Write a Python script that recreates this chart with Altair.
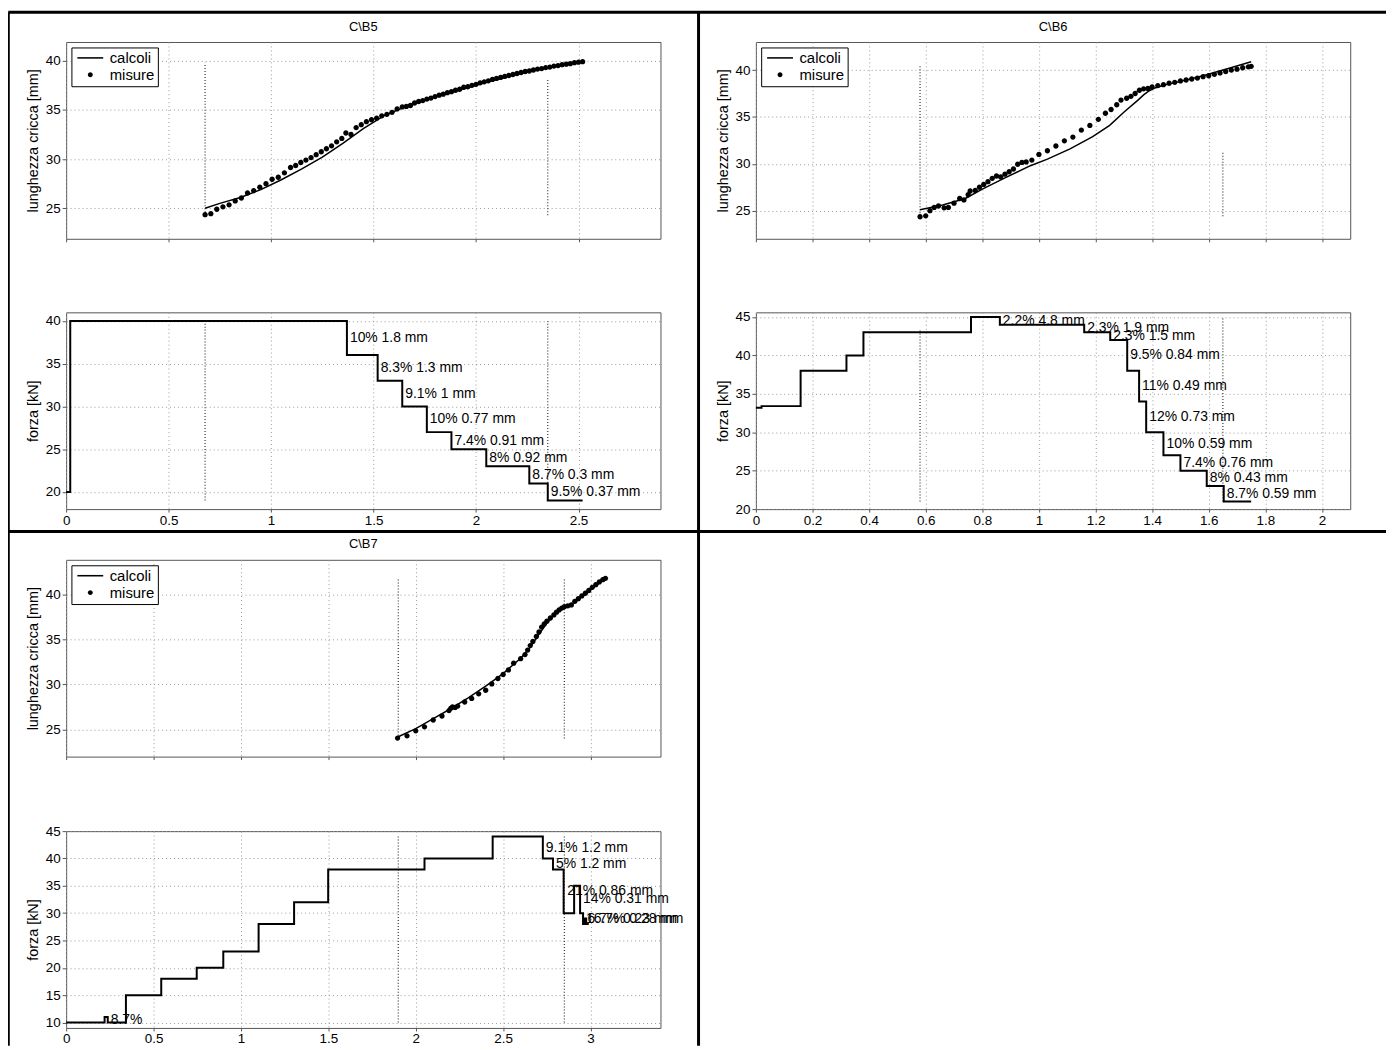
import altair as alt
import pandas as pd

FONT = "Liberation Sans"
GRID = "#9a9a9a"
FRAME = "#555555"

# ---------------- C\B5 ----------------
b5_calc_x = [0.678, 0.75, 0.85, 0.95, 1.05, 1.15, 1.25, 1.35, 1.45, 1.55, 1.65, 1.75, 1.85, 1.95, 2.05, 2.15, 2.25, 2.35, 2.45, 2.52]
b5_calc_y = [25.0, 25.5, 26.1, 26.9, 27.9, 29.0, 30.2, 31.6, 33.1, 34.4, 35.3, 36.0, 36.6, 37.2, 37.8, 38.4, 38.85, 39.3, 39.65, 39.9]
b5_mis_x = [0.678, 0.706, 0.735, 0.765, 0.795, 0.825, 0.855, 0.885, 0.915, 0.945, 0.975, 1.005, 1.035, 1.065, 1.095,
            1.12, 1.145, 1.17, 1.195, 1.22, 1.245, 1.27, 1.295, 1.32, 1.345, 1.365, 1.39, 1.415, 1.44, 1.465, 1.49,
            1.515, 1.54, 1.565, 1.59, 1.615, 1.64, 1.66, 1.68, 1.70, 1.72, 1.74, 1.76, 1.78, 1.80, 1.82, 1.84, 1.86,
            1.88, 1.90, 1.92, 1.94, 1.96, 1.98, 2.00, 2.02, 2.04, 2.06, 2.08, 2.10, 2.12, 2.14, 2.16, 2.18, 2.20,
            2.22, 2.24, 2.26, 2.28, 2.30, 2.32, 2.34, 2.36, 2.38, 2.40, 2.42, 2.44, 2.46, 2.48, 2.50, 2.52]
b5_mis_y = [24.35, 24.45, 24.9, 25.15, 25.35, 25.75, 26.05, 26.55, 26.8, 27.15, 27.5, 27.95, 28.15, 28.6, 29.15,
            29.35, 29.65, 29.9, 30.15, 30.45, 30.75, 31.05, 31.35, 31.75, 32.1, 32.65, 32.5, 33.2, 33.5, 33.8, 34.0,
            34.15, 34.4, 34.55, 34.75, 35.1, 35.3, 35.35, 35.45, 35.7, 35.85, 35.95, 36.1, 36.2, 36.35, 36.5, 36.6, 36.75,
            36.85, 37.0, 37.1, 37.3, 37.35, 37.5, 37.6, 37.75, 37.85, 37.95, 38.1, 38.2, 38.3, 38.4, 38.5, 38.6, 38.7,
            38.8, 38.9, 38.95, 39.05, 39.15, 39.2, 39.3, 39.35, 39.45, 39.5, 39.6, 39.65, 39.7, 39.8, 39.85, 39.9]
b5_mark_x = [0.678, 2.35]
b5_mark_top_lo = [24.3, 24.3]
b5_mark_top_hi = [39.8, 38.2]
b5_mark_bot_lo = [19.0, 19.0]
b5_mark_bot_hi = [40.0, 40.0]
b5_step_x = [0, 0.02, 1.37, 1.52, 1.64, 1.76, 1.88, 2.05, 2.26, 2.35, 2.52]
b5_step_y = [20, 40, 36, 33, 30, 27, 25, 23, 21, 19, 19]
b5_lab_x = [1.37, 1.52, 1.64, 1.76, 1.88, 2.05, 2.26, 2.35]
b5_lab_y = [38, 34.5, 31.5, 28.5, 26, 24, 22, 20]
b5_lab_t = ["10% 1.8 mm", "8.3% 1.3 mm", "9.1% 1 mm", "10% 0.77 mm", "7.4% 0.91 mm", "8% 0.92 mm", "8.7% 0.3 mm", "9.5% 0.37 mm"]

# ---------------- C\B6 ----------------
b6_calc_x = [0.58, 0.66, 0.74, 0.80, 0.88, 0.97, 1.03, 1.11, 1.19, 1.25, 1.30, 1.35, 1.37, 1.39, 1.41, 1.45, 1.50, 1.58, 1.66, 1.75]
b6_calc_y = [25.1, 25.6, 26.3, 27.3, 28.5, 29.8, 30.5, 31.6, 32.9, 34.1, 35.5, 36.8, 37.35, 37.8, 38.1, 38.45, 38.8, 39.4, 40.1, 40.9]
b6_mis_x = [0.58, 0.60, 0.615, 0.63, 0.645, 0.665, 0.68, 0.70, 0.72, 0.735, 0.75, 0.757, 0.775, 0.79, 0.805, 0.82,
            0.835, 0.85, 0.865, 0.88, 0.895, 0.91, 0.925, 0.94, 0.955, 0.975, 1.00, 1.03, 1.06, 1.09, 1.12, 1.15,
            1.18, 1.21, 1.235, 1.255, 1.275, 1.29, 1.31, 1.325, 1.34, 1.355, 1.37, 1.385, 1.40, 1.42, 1.44, 1.46,
            1.48, 1.50, 1.52, 1.54, 1.56, 1.58, 1.60, 1.62, 1.64, 1.66, 1.68, 1.70, 1.72, 1.74, 1.75]
b6_mis_y = [24.35, 24.45, 25.0, 25.35, 25.5, 25.3, 25.35, 25.8, 26.3, 26.15, 26.7, 27.1, 27.15, 27.5, 27.8, 28.1,
            28.45, 28.7, 28.6, 28.9, 29.15, 29.45, 29.95, 30.15, 30.2, 30.4, 31.0, 31.4, 31.9, 32.45, 32.85, 33.6,
            34.1, 34.75, 35.4, 35.8, 36.3, 36.8, 37.0, 37.2, 37.5, 37.85, 38.0, 38.05, 38.2, 38.35, 38.45, 38.6,
            38.7, 38.85, 38.95, 39.05, 39.15, 39.3, 39.4, 39.55, 39.7, 39.85, 40.0, 40.1, 40.25, 40.35, 40.4]
b6_mark_x = [0.58, 1.65]
b6_mark_top_lo = [24.4, 24.4]
b6_mark_top_hi = [40.4, 31.3]
b6_mark_bot_lo = [21.0, 21.0]
b6_mark_bot_hi = [43.4, 45.0]
b6_step_x = [0, 0.02, 0.158, 0.32, 0.38, 0.76, 0.862, 1.16, 1.252, 1.312, 1.354, 1.379, 1.44, 1.50, 1.593, 1.653, 1.75]
b6_step_y = [33.2, 33.4, 38, 40, 43, 45, 44, 43, 42, 38, 34, 30, 27, 25, 23, 21, 21]
b6_lab_x = [0.862, 1.16, 1.252, 1.312, 1.354, 1.379, 1.44, 1.50, 1.593, 1.653]
b6_lab_y = [44.5, 43.5, 42.5, 40, 36, 32, 28.5, 26, 24, 22]
b6_lab_t = ["2.2% 4.8 mm", "2.3% 1.9 mm", "2.3% 1.5 mm", "9.5% 0.84 mm", "11% 0.49 mm", "12% 0.73 mm",
            "10% 0.59 mm", "7.4% 0.76 mm", "8% 0.43 mm", "8.7% 0.59 mm"]

# ---------------- C\B7 ----------------
b7_calc_x = [1.9, 2.0, 2.1, 2.2, 2.3, 2.4, 2.5, 2.6, 2.65, 2.7, 2.75, 2.8, 2.85, 2.9, 2.95, 3.0, 3.05, 3.085]
b7_calc_y = [24.2, 25.1, 26.2, 27.3, 28.5, 29.8, 31.2, 32.9, 34.0, 35.4, 36.8, 37.9, 38.6, 39.0, 39.7, 40.5, 41.2, 41.8]
b7_mis_x = [1.896, 1.95, 2.0, 2.05, 2.1, 2.15, 2.19, 2.2, 2.21, 2.225, 2.24, 2.28, 2.32, 2.36, 2.40, 2.435, 2.47,
            2.5, 2.53, 2.56, 2.6, 2.625, 2.64, 2.655, 2.67, 2.69, 2.705, 2.72, 2.735, 2.75, 2.77, 2.79, 2.805,
            2.82, 2.835, 2.85, 2.87, 2.89, 2.91, 2.93, 2.95, 2.97, 2.99, 3.01, 3.03, 3.05, 3.07, 3.085]
b7_mis_y = [24.05, 24.3, 24.85, 25.3, 26.05, 26.5, 27.1, 27.35, 27.5, 27.45, 27.6, 28.05, 28.45, 28.95, 29.35, 30.05,
            30.65, 31.1, 31.6, 32.35, 32.85, 33.3, 33.8, 34.3, 34.75, 35.3, 35.8, 36.35, 36.7, 37.0, 37.35, 37.7,
            38.0, 38.25, 38.45, 38.6, 38.7, 38.8, 39.2, 39.5, 39.8, 40.1, 40.4, 40.75, 41.05, 41.35, 41.6, 41.75]
b7_mark_x = [1.9, 2.85]
b7_mark_top_lo = [24.0, 24.0]
b7_mark_top_hi = [41.7, 41.7]
b7_mark_bot_lo = [10.0, 10.0]
b7_mark_bot_hi = [44.0, 44.0]
b7_step_x = [0, 0.22, 0.238, 0.342, 0.544, 0.747, 0.899, 1.101, 1.304, 1.499, 2.05, 2.44, 2.727, 2.785, 2.846,
             2.906, 2.94, 2.957, 2.965, 2.975, 2.99]
b7_step_y = [10, 11, 10, 15, 18, 20, 23, 28, 32, 38, 40, 44, 40, 38, 30, 35, 30, 28, 29, 28, 28]
b7_lab_x = [0.238, 2.727, 2.785, 2.85, 2.94, 2.957, 2.965]
b7_lab_y = [10.5, 42, 39, 34, 32.5, 29, 29]
b7_lab_t = ["8.7%", "9.1% 1.2 mm", "5% 1.2 mm", "21% 0.86 mm", "14% 0.31 mm", "16.7% 0.28 mm", "6.7% 0.23 mm"]

SERIES = ["calcoli", "misure"]
LINE_PATH = "M-2,-0.12H2V0.12H-2Z"
DOT_PATH = "M0.38,0A0.38,0.38,0,1,1,-0.38,0A0.38,0.38,0,1,1,0.38,0Z"

W, H = 598, 198
ONE = pd.DataFrame({"k": [0]})


def xenc(field, dom, ticks, labels):
    return alt.X(f"{field}:Q", scale=alt.Scale(domain=dom, nice=False, zero=False),
                 axis=alt.Axis(values=ticks, labels=labels, ticks=True, tickSize=3, tickColor=FRAME,
                               domain=False, grid=True, format="~g",
                               gridColor=GRID, gridDash=[1, 3], gridWidth=1, title=None,
                               labelFont=FONT, labelFontSize=13.5, labelColor="black", labelPadding=1,
                               labelFlush=False, labelOverlap=False))


def yenc(field, dom, ticks, title):
    return alt.Y(f"{field}:Q", scale=alt.Scale(domain=dom, nice=False, zero=False),
                 axis=alt.Axis(values=ticks, title=title, ticks=True, tickSize=4, tickColor=FRAME,
                               domain=False, grid=True, format="~g",
                               gridColor=GRID, gridDash=[1, 3], gridWidth=1,
                               labelFont=FONT, labelFontSize=13.5, labelColor="black", labelPadding=2,
                               titleFont=FONT, titleFontSize=14.5, titleFontWeight="normal",
                               titleColor="black", titlePadding=5))


def top_panel(title, cx, cy, mx, my, kx, klo, khi, xdom, xt, ydom):
    calc = pd.DataFrame({"x": cx, "y": cy})
    mis = pd.DataFrame({"x": mx, "y": my, "serie": ["misure"] * len(mx)})
    marks = pd.DataFrame({"x": kx, "lo": klo, "hi": khi})
    yt = [25, 30, 35, 40]
    ytitle = "lunghezza cricca [mm]"
    rules = alt.Chart(marks).mark_rule(color="#333333", strokeDash=[1, 2], strokeWidth=1.2).encode(
        x=xenc("x", xdom, xt, False), y=yenc("lo", ydom, yt, ytitle), y2="hi:Q")
    line = alt.Chart(calc).mark_line(color="black", strokeWidth=1.5).encode(
        x=xenc("x", xdom, xt, False), y=yenc("y", ydom, yt, ytitle))
    pts = alt.Chart(mis).mark_point(filled=True, color="black", opacity=1, size=200).encode(
        x=xenc("x", xdom, xt, False), y=yenc("y", ydom, yt, ytitle),
        shape=alt.Shape("serie:N", scale=alt.Scale(domain=SERIES, range=[LINE_PATH, DOT_PATH]),
                        legend=alt.Legend(title=None, orient="none", legendX=5.3, legendY=5.5,
                                          direction="vertical", padding=3, rowPadding=1,
                                          labelFont=FONT, labelFontSize=15, labelColor="black",
                                          labelOffset=12, symbolOffset=8.5, symbolSize=169,
                                          symbolFillColor="black", symbolStrokeWidth=0, symbolOpacity=1,
                                          strokeColor="black", fillColor="white", cornerRadius=0,
                                          labelLimit=0)))
    return alt.layer(rules, line, pts).properties(
        width=W, height=H,
        title=alt.TitleParams(text=title, font=FONT, fontSize=13, fontWeight="normal", color="black",
                              anchor="middle", offset=8.5),
        view=alt.ViewBackground(stroke=FRAME, strokeWidth=1))


def bottom_panel(sx, sy, lx, ly, lt, kx, klo, khi, xdom, xt, ydom, yt, extra=()):
    steps = pd.DataFrame({"x": sx, "y": sy})
    labs = pd.DataFrame({"x": lx, "y": ly, "t": lt})
    marks = pd.DataFrame({"x": kx, "lo": klo, "hi": khi})
    ytitle = "forza [kN]"
    rules = alt.Chart(marks).mark_rule(color="#333333", strokeDash=[1, 2], strokeWidth=1.2).encode(
        x=xenc("x", xdom, xt, True), y=yenc("lo", ydom, yt, ytitle), y2="hi:Q")
    line = alt.Chart(steps).mark_line(color="black", strokeWidth=2, interpolate="step-after").encode(
        x=xenc("x", xdom, xt, True), y=yenc("y", ydom, yt, ytitle))
    text = alt.Chart(labs).mark_text(align="left", baseline="middle", dx=3, font=FONT, fontSize=14,
                                     color="black").encode(
        x=xenc("x", xdom, xt, True), y=yenc("y", ydom, yt, ytitle), text="t:N")
    return alt.layer(rules, line, text, *extra).properties(
        width=W, height=H, view=alt.ViewBackground(stroke=FRAME, strokeWidth=1))


def spacer(h):
    return alt.Chart(ONE).mark_point(opacity=0).encode(x=alt.value(0), y=alt.value(0)).properties(
        width=W, height=h, view=alt.ViewBackground(stroke="transparent"))


def hrule(y, x1, x2):
    return alt.Chart(ONE).mark_rule(color="black", strokeWidth=3).encode(
        x=alt.value(x1), x2=alt.value(x2), y=alt.value(y))


def vrule(x, y1, y2):
    return alt.Chart(ONE).mark_rule(color="black", strokeWidth=3).encode(
        x=alt.value(x), y=alt.value(y1), y2=alt.value(y2))


# table borders (decoration), placed relative to the first force panel
borders = [
    hrule(-302, -58.2, 1328),
    hrule(220.5, -58.2, 1328),
    vrule(-58.2, -302, 738),
    vrule(636.3, -302, 738),
]

xt5 = [0, 0.5, 1, 1.5, 2, 2.5]
xt6 = [0, 0.2, 0.4, 0.6, 0.8, 1, 1.2, 1.4, 1.6, 1.8, 2]
xt7 = [0, 0.5, 1, 1.5, 2, 2.5, 3]

b5t = top_panel("C\\B5", b5_calc_x, b5_calc_y, b5_mis_x, b5_mis_y, b5_mark_x, b5_mark_top_lo, b5_mark_top_hi,
                [0, 2.9], xt5, [21.9, 41.9])
b6t = top_panel("C\\B6", b6_calc_x, b6_calc_y, b6_mis_x, b6_mis_y, b6_mark_x, b6_mark_top_lo, b6_mark_top_hi,
                [0, 2.1], xt6, [22.0, 43.0])
b7t = top_panel("C\\B7", b7_calc_x, b7_calc_y, b7_mis_x, b7_mis_y, b7_mark_x, b7_mark_top_lo, b7_mark_top_hi,
                [0, 3.4], xt7, [22.0, 43.8])

b5b = bottom_panel(b5_step_x, b5_step_y, b5_lab_x, b5_lab_y, b5_lab_t, b5_mark_x, b5_mark_bot_lo, b5_mark_bot_hi,
                   [0, 2.9], xt5, [18, 41], [20, 25, 30, 35, 40], extra=borders)
b6b = bottom_panel(b6_step_x, b6_step_y, b6_lab_x, b6_lab_y, b6_lab_t, b6_mark_x, b6_mark_bot_lo, b6_mark_bot_hi,
                   [0, 2.1], xt6, [20, 45.6], [20, 25, 30, 35, 40, 45])
b7b = bottom_panel(b7_step_x, b7_step_y, b7_lab_x, b7_lab_y, b7_lab_t, b7_mark_x, b7_mark_bot_lo, b7_mark_bot_hi,
                   [0, 3.4], xt7, [9, 45], [10, 15, 20, 25, 30, 35, 40, 45])

chart = alt.concat(
    b5t, b6t,
    spacer(74), spacer(74),
    b5b, b6b,
    spacer(51), spacer(51),
    b7t, spacer(198),
    spacer(75), spacer(75),
    b7b, spacer(198),
    columns=2,
    spacing=alt.RowColnumber(row=0, column=96),
    bounds="flush",
).resolve_scale(x="independent", y="independent", shape="independent").resolve_legend(
    shape="independent").properties(padding={"left": -2.5, "top": -1, "right": 0, "bottom": 0},
                                    background="white")

chart.save("out.html", embed_options={"renderer": "svg", "actions": False})
